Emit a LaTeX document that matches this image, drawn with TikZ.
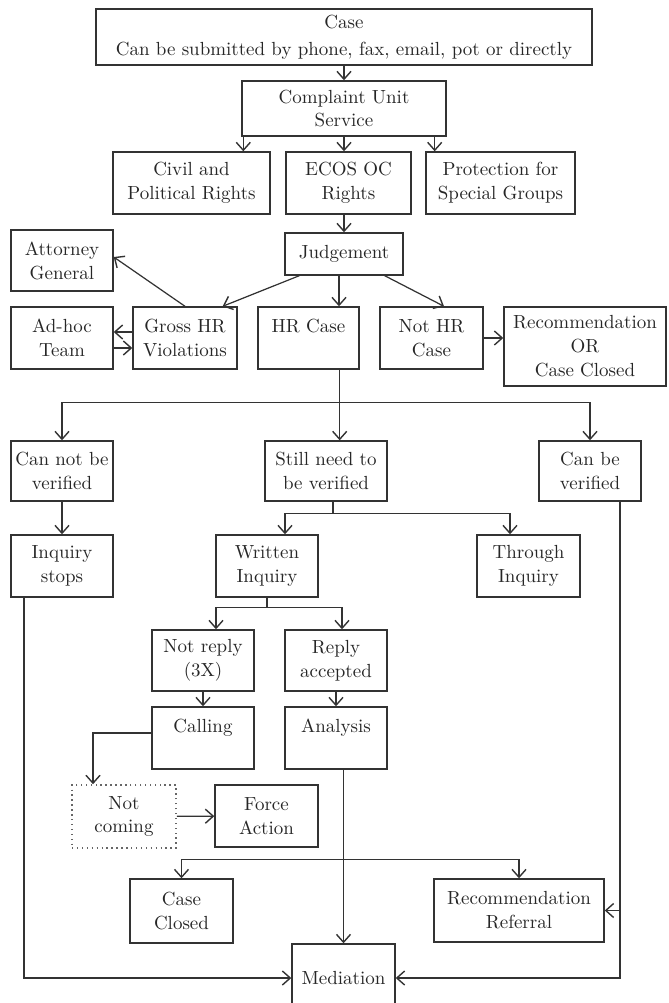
\documentclass[tikz,border=0pt]{standalone}
\usepackage{tikz}
\usetikzlibrary{arrows.meta,calc}

\begin{document}
\begin{tikzpicture}[>={Straight Barb[length=4.5pt,width=8pt,line width=0.8pt]},
		font=\fontsize{10.8}{13.6}\selectfont,
		flowbox/.style={draw=black!80,rectangle,line width=0.8pt,align=center,inner sep=1pt,text=black!85},
		dotbox/.style={flowbox,draw=black!60,dotted,line width=0.9pt},
		conn/.style={draw=black!80,line width=0.7pt}]
		\useasboundingbox (0,0) rectangle (13.36,-20.06);
		\node (case)      [flowbox,minimum width=9.92cm,minimum height=1.12cm] at (6.88,-0.74) {Case\\[2pt]Can be submitted by phone, fax, email, pot or directly};
		\node (complaint) [flowbox,minimum width=4.08cm,minimum height=1.10cm] at (6.88,-2.17) {Complaint Unit\\Service};
		\node (civil)     [flowbox,minimum width=3.14cm,minimum height=1.24cm] at (3.83,-3.66) {Civil and\\Political Rights};
		\node (ecos)      [flowbox,minimum width=2.50cm,minimum height=1.24cm] at (6.97,-3.66) {ECOS OC\\Rights};
		\node (protect)   [flowbox,minimum width=2.98cm,minimum height=1.24cm] at (10.01,-3.66) {Protection for\\Special Groups};
		\node (judge)     [flowbox,minimum width=2.36cm,minimum height=0.84cm] at (6.88,-5.08) {Judgement};
		\node (attorney)  [flowbox,minimum width=2.04cm,minimum height=1.22cm] at (1.24,-5.21) {Attorney\\General};
		\node (gross)     [flowbox,minimum width=2.08cm,minimum height=1.24cm] at (3.70,-6.76) {Gross HR\\Violations};
		\node (adhoc)     [flowbox,minimum width=2.04cm,minimum height=1.24cm] at (1.24,-6.76) {Ad-hoc\\Team};
		\node (hrcase)    [flowbox,minimum width=2.02cm,minimum height=1.24cm] at (6.17,-6.76) {HR Case\\~};
		\node (nothr)     [flowbox,minimum width=2.06cm,minimum height=1.24cm] at (8.63,-6.76) {Not HR\\Case};
		\node (recor)     [flowbox,minimum width=3.24cm,minimum height=1.58cm] at (11.70,-6.93) {Recommendation\\OR\\Case Closed};
		\node (cannot)    [flowbox,minimum width=2.04cm,minimum height=1.20cm] at (1.24,-9.42) {Can not be\\verified};
		\node (still)     [flowbox,minimum width=2.44cm,minimum height=1.20cm] at (6.52,-9.42) {Still need to\\be verified};
		\node (canbe)     [flowbox,minimum width=2.04cm,minimum height=1.20cm] at (11.80,-9.42) {Can be\\verified};
		\node (stops)     [flowbox,minimum width=2.04cm,minimum height=1.24cm] at (1.24,-11.32) {Inquiry\\stops};
		\node (written)   [flowbox,minimum width=2.04cm,minimum height=1.24cm] at (5.34,-11.32) {Written\\Inquiry};
		\node (through)   [flowbox,minimum width=2.06cm,minimum height=1.24cm] at (10.57,-11.32) {Through\\Inquiry};
		\node (notreply)  [flowbox,minimum width=2.04cm,minimum height=1.22cm] at (4.06,-13.21) {Not reply\\(3X)};
		\node (replyacc)  [flowbox,minimum width=2.04cm,minimum height=1.22cm] at (6.72,-13.21) {Reply\\accepted};
		\node (calling)   [flowbox,minimum width=2.04cm,minimum height=1.24cm] at (4.06,-14.76) {Calling\\~};
		\node (analysis)  [flowbox,minimum width=2.04cm,minimum height=1.24cm] at (6.72,-14.76) {Analysis\\~};
		\node (notcoming) [dotbox,minimum width=2.08cm,minimum height=1.26cm] at (2.48,-16.33) {Not\\coming};
		\node (force)     [flowbox,minimum width=2.06cm,minimum height=1.24cm] at (5.33,-16.32) {Force\\Action};
		\node (closed)    [flowbox,minimum width=2.06cm,minimum height=1.28cm] at (3.63,-18.22) {Case\\Closed};
		\node (recref)    [flowbox,minimum width=3.40cm,minimum height=1.26cm] at (10.38,-18.21) {Recommendation\\Referral};
		\node (mediation) [flowbox,minimum width=2.06cm,minimum height=1.36cm] at (6.87,-19.56) {Mediation};
		\coordinate (hrout) at ([xshift=-0.4cm]hrcase.south east);
		\coordinate (split1) at ([yshift=-0.66cm]hrout);
		\coordinate (split2) at ([xshift=0.14cm,yshift=-0.24cm]still.south);
		\coordinate (split3) at ([yshift=-0.2cm]written.south);
		\coordinate (anout) at (analysis.south -| mediation.north);
		\coordinate (split4) at ([yshift=-1.8cm]anout);
		\coordinate (canout) at ([xshift=0.6cm]canbe.south);
		\draw [->,conn] (case) -- (complaint);
		\draw [->,conn] ([xshift=0.04cm]complaint.south west) -- ([xshift=0.04cm]complaint.south west |- civil.north);
		\draw [->,conn] (complaint) -- (complaint |- ecos.north);
		\draw [->,conn] ([xshift=-0.24cm]complaint.south east) -- ([xshift=-0.24cm]complaint.south east |- protect.north);
		\draw [->,conn] (ecos.south -| judge) -- (judge);
		\draw [->,conn] ([xshift=0.3cm]judge.south west) -- ([xshift=-0.3cm]gross.north east);
		\draw [->,conn] ([xshift=-0.1cm]judge.south) -- ([xshift=-0.1cm]judge.south |- hrcase.north);
		\draw [->,conn] ([xshift=-0.38cm]judge.south east) -- ([xshift=0.25cm]nothr.north);
		\draw [->,conn] (gross.north) -- ([yshift=0.07cm]attorney.east);
		\draw [->,conn] ([yshift=0.12cm]gross.west) -- ([yshift=0.12cm]adhoc.east);
		\draw [->,conn] ([yshift=-0.2cm]adhoc.east) -- ([yshift=-0.2cm]gross.west);
		\draw [->,conn] (nothr.east) -- (nothr.east -| recor.west);
		\draw [->,conn] (hrout) -- (hrout |- still.north);
		\draw [->,conn] (split1) -| (cannot.north);
		\draw [->,conn] (split1) -| (canbe.north);
		\draw [->,conn] (cannot) -- (stops);
		\draw [conn] ([xshift=0.14cm]still.south) -- (split2);
		\draw [->,conn] (split2) -| ([xshift=0.36cm]written.north);
		\draw [->,conn] (split2) -| ([xshift=-0.37cm]through.north);
		\draw [conn] (written) -- (split3);
		\draw [->,conn] (split3) -| ([xshift=0.26cm]notreply.north);
		\draw [->,conn] (split3) -| ([xshift=0.12cm]replyacc.north);
		\draw [->,conn] (notreply) -- (calling);
		\draw [->,conn] (replyacc) -- (analysis);
		\draw [->,conn] ([yshift=0.1cm]calling.west) -| ([xshift=-0.62cm]notcoming.north);
		\draw [->,conn] (notcoming) -- (force);
		\draw [->,conn] (anout) -- (mediation);
		\draw [->,conn] (split4) -| (closed);
		\draw [->,conn] (split4) -| (recref);
		\draw [->,conn] ([xshift=-0.76cm]stops.south) |- (mediation);
		\draw [->,conn] (canout) |- (mediation);
		\draw [->,conn] (canout |- recref.east) -- (recref);
	\end{tikzpicture}
\end{document}
